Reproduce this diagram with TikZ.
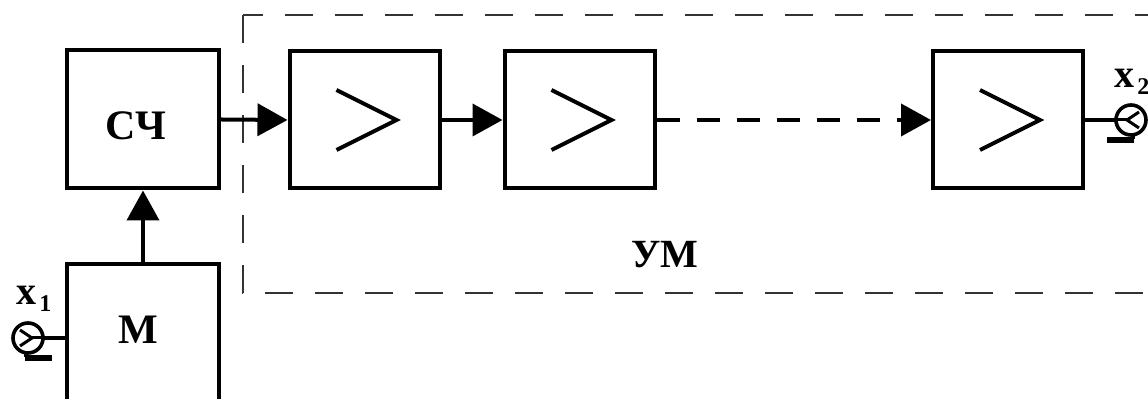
\documentclass[tikz,border=0pt]{standalone}
\usepackage{fontspec}
\setmainfont{Liberation Serif}
\usetikzlibrary{arrows.meta,calc}
\begin{document}
\begin{tikzpicture}[x=0.5pt,y=-0.5pt,
  blk/.style={draw,line width=2pt,inner sep=0pt,minimum width=76pt,minimum height=69pt},
  ampblk/.style={draw,line width=2pt,inner sep=0pt,minimum width=75pt,minimum height=68.5pt},
  lbl/.style={inner sep=0pt,font=\fontsize{21}{21}\selectfont\bfseries},
  xlbl/.style={inner sep=0pt,anchor=base west,font=\fontsize{20}{20}\selectfont\bfseries},
  arr/.style={line width=2pt,-{Triangle[length=15pt,width=16pt]}},
  darr/.style={arr,dash pattern=on 11.5pt off 8.5pt},
  wire/.style={line width=1.6pt},
  umframe/.style={line width=1pt,black!80,dash pattern=on 14pt off 11pt},
  ampsign/.pic={\draw[line width=2pt] (-28,-30) -- (32,0) -- (-28,30);},
  term/.pic={
    \draw[line width=1.8pt] (0,0) circle[radius=7.5pt];
    \draw[line width=1.5pt] (-8,-8) -- (4,0) -- (-8,8);
    \draw[line width=1.5pt] (4,0) -- (15,0);
    \draw[line width=1.8pt] (-2,14) -- (-2,19);
    \draw[line width=3pt] (-3,20) -- (24,20);}
]
\useasboundingbox (0,0) rectangle (1148,399);

% dashed frame of the power amplifier
\draw[umframe] (243,15) rectangle (1175,293);

% blocks
\node[blk] (sc) at (143,119.5) {};
\node[blk,minimum height=100pt] (m) at (143,364) {};
\node[ampblk] (a1) at (364.5,120) {};
\node[ampblk] (a2) at (579.5,120) {};
\node[ampblk] (a3) at (1008,120) {};
\pic at (a1) {ampsign};
\pic at (a2) {ampsign};
\pic at (a3) {ampsign};

% texts
\node[lbl] (tsc) at (136,126) {СЧ};
\node[lbl] (tm) at (138,330) {М};
\node[lbl,font=\fontsize{20}{20}\selectfont\bfseries] (tum) at (665,255) {УМ};

% terminals
\coordinate (xin) at (28,338);
\coordinate (xinE) at (43,338);
\pic at (xin) {term};
\coordinate (xout) at (1131,120);
\coordinate (xoutW) at (1116,120);
\pic[xscale=-1] at (xout) {term};
\node[xlbl] (lx1) at (16,305) {x\kern1.5pt\raisebox{-0.35ex}{\fontsize{12}{12}\selectfont 1}};
\node[xlbl] (lx2) at (1114,88) {x\kern1.5pt\raisebox{-0.35ex}{\fontsize{12}{12}\selectfont 2}};

% connectors
\draw[wire] (xinE) -- (xinE -| m.west);
\draw[arr] (m.north) -- (sc.south);
\draw[arr] (sc.east) -- (a1.west);
\draw[arr] (a1.east) -- (a2.west);
\draw[darr] (a2.east) -- (a3.west);
\draw[wire] (a3.east) -- (xoutW);
\end{tikzpicture}
\end{document}
